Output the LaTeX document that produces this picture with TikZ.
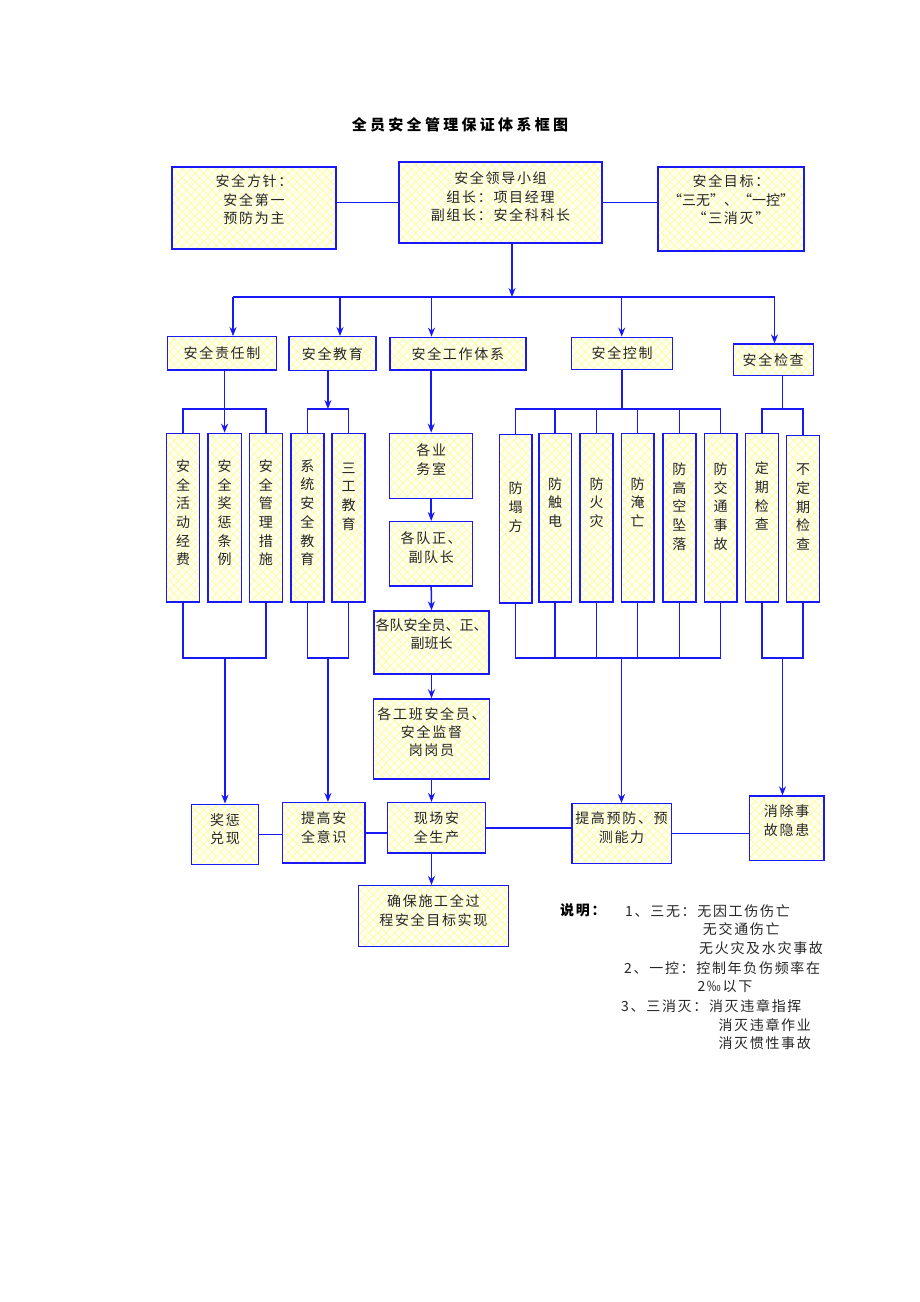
\documentclass[tikz,border=0pt]{standalone}
\usepackage{fontspec}
\usetikzlibrary{arrows.meta,patterns.meta,calc}
\newfontfamily\cjk[LetterSpace=12]{Noto Sans CJK SC}
\newfontfamily\cjkn{Noto Sans CJK SC}
\newfontfamily\cjkt[LetterSpace=22]{Noto Sans CJK SC}
\definecolor{lblue}{RGB}{25,25,245}
\definecolor{hatchy}{RGB}{255,250,170}
\definecolor{cream}{RGB}{255,255,240}
\begin{document}
\begin{tikzpicture}[x=1pt,y=-1pt,
  box/.style={draw=lblue, line width=1.4pt, preaction={fill=cream},
    pattern={Hatch[angle=45,distance=6pt,line width=0.8pt]}, pattern color=hatchy,
    inner sep=0pt, align=center, text=black!85,
    font={\cjk\fontsize{14}{18.3}\selectfont}},
  vbox/.style={box, font={\cjk\fontsize{14}{18.7}\selectfont}},
  ln/.style={draw=lblue, line width=1.5pt},
  arr/.style={ln, -{Stealth[length=9pt,width=7pt]}},
  lift/.style={text depth=#1},
  sz/.style 2 args={minimum width=#1, minimum height=#2},
  note/.style={anchor=west, inner sep=0pt, text=black!85, font={\cjk\fontsize{14}{18}\selectfont}}
]
\useasboundingbox (0,0) rectangle (920,1302);

% title
\node[font={\cjkt\bfseries\fontsize{15}{18}\selectfont}, text=black] (title) at (460,125) {全员安全管理保证体系框图};

% top row
\node[box, sz={164}{82}, lift=17.5] (fz) at (254,208) {安全方针：\\安全第一\\预防为主};
\node[box, sz={203}{81}, lift=12.5] (ld) at (500.5,202.5) {安全领导小组\\组长：项目经理\\副组长：安全科科长};
\node[box, sz={146}{84}, lift=19.5] (mb) at (731,209) {安全目标：\\{\cjkn“三无”、“一控”}\\“三消灭”};
\draw[ln] (fz.east |- ld.west) -- (ld.west);
\draw[ln] (ld.east) -- (mb.west |- ld.east);

% level 2
\node[box, sz={108.6}{33.3}] (zr) at (222,353.4) {安全责任制};
\node[box, sz={87.2}{34}] (jy) at (332.4,353.7) {安全教育};
\node[box, sz={136}{32.7}] (gz) at (457.8,353.7) {安全工作体系};
\node[box, sz={101}{32.4}] (kz) at (622.1,353.5) {安全控制};
\node[box, sz={80}{31.7}] (jc) at (773.2,359.9) {安全检查};

\coordinate (bus) at (512,297);
\coordinate (t1) at (233,297);
\coordinate (t2) at (340,297);
\coordinate (t3) at (431.5,297);
\coordinate (t4) at (621.7,297);
\coordinate (t5) at (774.5,297);
\draw[arr] (ld.south -| bus) -- (bus);
\draw[ln] (t1) -- (t5);
\draw[arr] (t1) -- (t1 |- zr.north);
\draw[arr] (t2) -- (t2 |- jy.north);
\draw[arr] (t3) -- (t3 |- gz.north);
\draw[arr] (t4) -- (t4 |- kz.north);
\draw[arr] (t5) -- (t5 |- jc.north);

% vertical boxes
\node[vbox, sz={33.3}{168.7}, lift=11] (a1) at (183,517.7) {安\\全\\活\\动\\经\\费};
\node[vbox, sz={33.3}{168.7}, lift=11] (a2) at (224.6,517.7) {安\\全\\奖\\惩\\条\\例};
\node[vbox, sz={33.3}{168.7}, lift=11] (a3) at (265.9,517.7) {安\\全\\管\\理\\措\\施};
\node[vbox, sz={33}{168.7}, lift=11] (b1) at (307.3,517.7) {系\\统\\安\\全\\教\\育};
\node[vbox, sz={33}{168.7}, lift=43.5] (b2) at (348.6,517.7) {三\\工\\教\\育};

\node[vbox, sz={32.8}{168.7}, lift=24.5] (c1) at (515.6,518.7) {防\\塌\\方};
\node[vbox, sz={32.8}{168.7}, lift=31.5] (c2) at (555.2,517.7) {防\\触\\电};
\node[vbox, sz={32.8}{168.7}, lift=31.5] (c3) at (596.5,517.7) {防\\火\\灾};
\node[vbox, sz={32.8}{168.7}, lift=31.5] (c4) at (637.7,517.7) {防\\淹\\亡};
\node[vbox, sz={32.8}{168.7}, lift=23.5] (c5) at (679.4,517.7) {防\\高\\空\\坠\\落};
\node[vbox, sz={32.8}{168.7}, lift=23.5] (c6) at (720.6,517.7) {防\\交\\通\\事\\故};
\node[vbox, sz={32.8}{168.7}, lift=43.5] (d1) at (761.9,517.7) {定\\期\\检\\查};
\node[vbox, sz={32.8}{166.3}, lift=24.5] (d2) at (803.1,518.9) {不\\定\\期\\检\\查};

% work system chain
\node[box, sz={82.9}{65}, lift=13.5] (w1) at (431.2,465.8) {各业\\务室};
\node[box, sz={82.9}{64.3}, lift=13.5] (w2) at (431.2,553.8) {各队正、\\副队长};
\node[box, sz={115}{63}, lift=17.5, font={\cjkn\fontsize{14}{18.3}\selectfont}] (w3) at (431.5,642.5) {各队安全员、正、\\副班长};
\node[box, sz={115.7}{80}, lift=15] (w4) at (431.5,739) {各工班安全员、\\安全监督\\岗岗员};

% bottom row
\node[box, sz={67.3}{60}, lift=11.5] (jx) at (225,834.3) {奖惩\\兑现};
\node[box, sz={82.9}{60.3}, lift=11.5] (ys) at (323.7,832.8) {提高安\\全意识};
\node[box, sz={98.1}{50.3}] (xc) at (436.5,827.8) {现场安\\全生产};
\node[box, sz={99.4}{60}, lift=13.5] (yf) at (621.5,833.7) {提高预防、预\\测能力};
\node[box, sz={74.5}{64.3}, lift=16.3] (xy) at (786.6,828.2) {消除事\\故隐患};
\node[box, sz={149.8}{61}, lift=12.3] (qb) at (433.4,916.2) {确保施工全过\\程安全目标实现};

% brackets top
\coordinate (ytop) at (0,409);
\coordinate (ybot) at (0,658);
\draw[arr] (a2.north |- zr.south) -- (a2.north);
\draw[ln] (a1.north) -- (a1.north |- ytop) -- (a3.north |- ytop) -- (a3.north);
\coordinate (bm) at ($(b1.north)!0.5!(b2.north)$);
\draw[arr] (bm |- jy.south) -- (bm |- ytop);
\draw[ln] (b1.north) -- (b1.north |- ytop) -- (b2.north |- ytop) -- (b2.north);
\draw[arr] (w1.north |- gz.south) -- (w1.north);
\draw[ln] (kz.south) -- (kz.south |- ytop);
\draw[ln] (c1.north) -- (c1.north |- ytop) -- (c6.north |- ytop) -- (c6.north);
\foreach \n in {c2,c3,c4,c5} \draw[ln] (\n.north) -- (\n.north |- ytop);
\coordinate (dm) at ($(d1.north)!0.5!(d2.north)$);
\draw[ln] (dm |- jc.south) -- (dm |- ytop);
\draw[ln] (d1.north) -- (d1.north |- ytop) -- (d2.north |- ytop) -- (d2.north);

% brackets bottom
\draw[ln] (a1.south) -- (a1.south |- ybot) -- (a3.south |- ybot) -- (a3.south);
\draw[arr] (jx.north |- ybot) -- (jx.north);
\draw[ln] (b1.south) -- (b1.south |- ybot) -- (b2.south |- ybot) -- (b2.south);
\draw[arr] (bm |- ybot) -- (bm |- ys.north);
\draw[ln] (c1.south) -- (c1.south |- ybot) -- (c6.south |- ybot) -- (c6.south);
\foreach \n in {c2,c3,c4,c5} \draw[ln] (\n.south) -- (\n.south |- ybot);
\draw[arr] (yf.north |- ybot) -- (yf.north);
\draw[ln] (d1.south) -- (d1.south |- ybot) -- (d2.south |- ybot) -- (d2.south);
\draw[arr] (dm |- ybot) -- (dm |- xy.north);

% chain arrows
\draw[arr] (w1.south) -- (w2.north);
\draw[arr] (w2.south) -- (w3.north);
\draw[arr] (w3.south) -- (w4.north);
\draw[arr] (w4.south) -- (w4.south |- xc.north);
\draw[arr] (w4.south |- xc.south) -- (w4.south |- qb.north);

% bottom horizontal links
\draw[ln] (jx.east) -- (jx.east -| ys.west);
\draw[ln] (ys.east) -- (ys.east -| xc.west);
\draw[ln] (xc.east) -- (xc.east -| yf.west);
\draw[ln] (yf.east) -- (yf.east -| xy.west);

% notes
\node[note, font={\cjk\bfseries\fontsize{14}{18}\selectfont}, text=black] (sm) at (560,910) {说明：};
\node[note] (n1) at (625,911) {1、三无：无因工伤伤亡};
\node[note] (n2) at (702.7,929.3) {无交通伤亡};
\node[note] (n3) at (699,948.3) {无火灾及水灾事故};
\node[note] (n4) at (624,968) {2、一控：控制年负伤频率在};
\node[note] (n5) at (697.3,986.7) {2‰以下};
\node[note] (n6) at (621,1006) {3、三消灭：消灭违章指挥};
\node[note] (n7) at (718.3,1024.7) {消灭违章作业};
\node[note] (n8) at (718.3,1043.3) {消灭惯性事故};
\end{tikzpicture}
\end{document}
